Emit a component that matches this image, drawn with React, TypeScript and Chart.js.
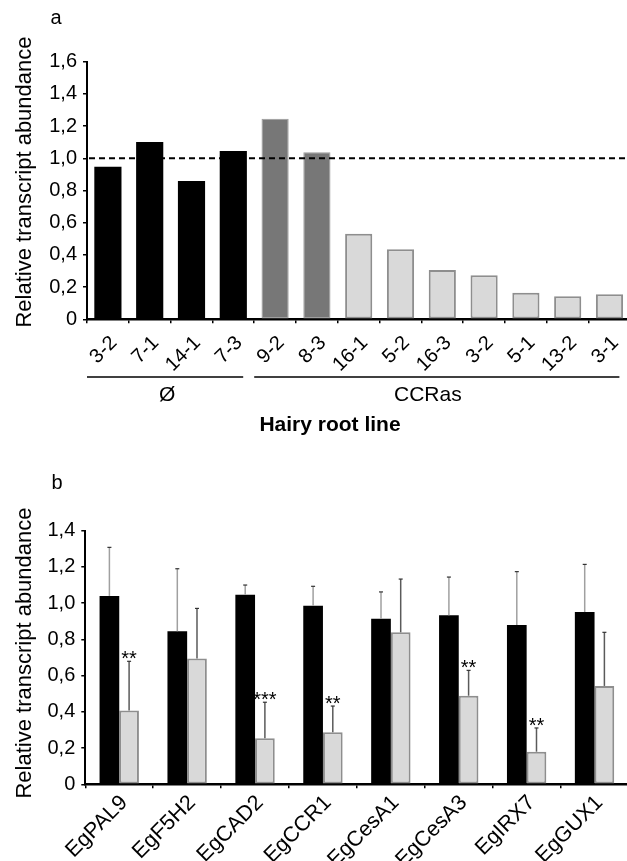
import React, { useEffect, useRef } from 'react';
import { Chart, registerables } from 'chart.js';

Chart.register(...registerables);

// ---------- Panel a data ----------
const linesA = ['3-2', '7-1', '14-1', '7-3', '9-2', '8-3', '16-1', '5-2', '16-3', '3-2', '5-1', '13-2', '3-1'];
const valuesA = [0.948, 1.101, 0.859, 1.045, 1.246, 1.037, 0.532, 0.435, 0.306, 0.273, 0.165, 0.143, 0.155];
const kindA = ['ctrl', 'ctrl', 'ctrl', 'ctrl', 'high', 'high', 'low', 'low', 'low', 'low', 'low', 'low', 'low'];
const groupNamesA = ['Ø', 'CCRas'];
const groupSizesA = [4, 9];
const yTicksA = ['0', '0,2', '0,4', '0,6', '0,8', '1,0', '1,2', '1,4', '1,6'];
const referenceLevelA = 1.0;

// ---------- Panel b data ----------
const genesB = ['EgPAL9', 'EgF5H2', 'EgCAD2', 'EgCCR1', 'EgCesA1', 'EgCesA3', 'EgIRX7', 'EgGUX1'];
const controlB = [1.04, 0.845, 1.047, 0.986, 0.914, 0.933, 0.879, 0.951];
const controlErrB = [0.268, 0.345, 0.053, 0.107, 0.148, 0.211, 0.295, 0.263];
const ccrB = [0.408, 0.695, 0.254, 0.287, 0.839, 0.489, 0.18, 0.543];
const ccrErrB = [0.271, 0.276, 0.199, 0.145, 0.294, 0.14, 0.131, 0.296];
const sigB = ['**', '', '***', '**', '', '**', '**', ''];
const yTicksB = ['0', '0,2', '0,4', '0,6', '0,8', '1,0', '1,2', '1,4'];

const FONT = '"Liberation Sans", Arial, Helvetica, sans-serif';
const f = (size: number, bold = false) => `${bold ? 'bold ' : ''}${size}px ${FONT}`;

const W = 640;
const HA = 440;
const HB = 421;

const fillFor = (k: string) => (k === 'ctrl' ? '#000000' : k === 'high' ? '#777777' : '#d9d9d9');
const borderFor = (k: string) => (k === 'ctrl' ? '#000000' : k === 'high' ? '#9a9a9a' : '#8e8e8e');
const borderWFor = (k: string) => (k === 'ctrl' ? 0 : k === 'high' ? 1 : 2);

function drawYTitle(ctx: CanvasRenderingContext2D, x: number, y: number, text: string) {
  ctx.save();
  ctx.translate(x, y);
  ctx.rotate(-Math.PI / 2);
  ctx.font = f(22);
  ctx.fillStyle = '#000';
  ctx.textAlign = 'center';
  ctx.textBaseline = 'middle';
  ctx.fillText(text, 0, 0);
  ctx.restore();
}

function drawLetter(ctx: CanvasRenderingContext2D, x: number, y: number, text: string) {
  ctx.save();
  ctx.font = f(20);
  ctx.fillStyle = '#000';
  ctx.textAlign = 'center';
  ctx.textBaseline = 'middle';
  ctx.fillText(text, x, y);
  ctx.restore();
}

const annotA = {
  id: 'annotA',
  afterDatasetsDraw(chart: any) {
    const { ctx, chartArea, scales } = chart;
    const y = scales.y.getPixelForValue(referenceLevelA);
    ctx.save();
    ctx.strokeStyle = '#000';
    ctx.lineWidth = 2;
    ctx.setLineDash([6, 4]);
    ctx.beginPath();
    ctx.moveTo(chartArea.left + 2, y);
    ctx.lineTo(chartArea.right, y);
    ctx.stroke();
    ctx.restore();
  },
  afterDraw(chart: any) {
    const { ctx, scales } = chart;
    const xs = scales.x;
    const step = xs.getPixelForValue(1) - xs.getPixelForValue(0);
    const lineY = 377;
    let start = 0;
    ctx.save();
    ctx.strokeStyle = '#000';
    ctx.lineWidth = 1.6;
    ctx.fillStyle = '#000';
    ctx.font = f(21);
    ctx.textAlign = 'center';
    ctx.textBaseline = 'middle';
    groupNamesA.forEach((name, gi) => {
      const end = start + groupSizesA[gi] - 1;
      const x0 = xs.getPixelForValue(start) - step / 2;
      const x1 = Math.min(xs.getPixelForValue(end) + step / 2 - 11, 621);
      ctx.beginPath();
      ctx.moveTo(x0, lineY);
      ctx.lineTo(x1, lineY);
      ctx.stroke();
      const cx = gi === 0 ? (x0 + x1) / 2 + 2 : (x0 + x1) / 2 - 9;
      ctx.fillText(name, cx, 395);
      start = end + 1;
    });
    ctx.font = f(21, true);
    ctx.fillText('Hairy root line', 330, 425);
    ctx.restore();
    drawYTitle(ctx, 25, 182, 'Relative transcript abundance');
    drawLetter(ctx, 56, 18, 'a');
  },
};

const annotB = {
  id: 'annotB',
  afterDatasetsDraw(chart: any) {
    const { ctx, scales } = chart;
    const ys = scales.y;
    const sets = [
      { vals: controlB, errs: controlErrB, line: '#a0a0a0' },
      { vals: ccrB, errs: ccrErrB, line: '#5a5a5a' },
    ];
    sets.forEach((s, di) => {
      const meta = chart.getDatasetMeta(di);
      meta.data.forEach((el: any, i: number) => {
        const x = el.x;
        const yTop = ys.getPixelForValue(s.vals[i] + s.errs[i]);
        ctx.save();
        ctx.strokeStyle = s.line;
        ctx.lineWidth = 1.5;
        ctx.beginPath();
        ctx.moveTo(x, el.y);
        ctx.lineTo(x, yTop);
        ctx.stroke();
        ctx.strokeStyle = '#333';
        ctx.lineWidth = 1.2;
        ctx.beginPath();
        ctx.moveTo(x - 2, yTop);
        ctx.lineTo(x + 2, yTop);
        ctx.stroke();
        ctx.restore();
        if (di === 1 && sigB[i]) {
          ctx.save();
          ctx.font = f(20);
          ctx.fillStyle = '#000';
          ctx.textAlign = 'center';
          ctx.textBaseline = 'alphabetic';
          ctx.fillText(sigB[i], x, yTop + 4);
          ctx.restore();
        }
      });
    });
  },
  afterDraw(chart: any) {
    const { ctx } = chart;
    drawYTitle(ctx, 25, 653 - 440, 'Relative transcript abundance');
    drawLetter(ctx, 57, 483 - 440, 'b');
  },
};

function axisCommon(labels: string[], font: number) {
  return {
    ticks: {
      color: '#000',
      font: { family: FONT, size: font },
      padding: 6,
      callback: (_v: any, i: number) => labels[i],
    },
  };
}

export default function App() {
  const refA = useRef<HTMLCanvasElement>(null);
  const refB = useRef<HTMLCanvasElement>(null);

  useEffect(() => {
    const chartA = new Chart(refA.current as HTMLCanvasElement, {
      type: 'bar',
      data: {
        labels: linesA,
        datasets: [
          {
            data: valuesA,
            backgroundColor: kindA.map(fillFor),
            borderColor: kindA.map(borderFor),
            borderWidth: kindA.map(borderWFor),
            borderSkipped: false,
            categoryPercentage: 1,
            barPercentage: 0.65,
          },
        ],
      },
      options: {
        responsive: false,
        animation: false,
        devicePixelRatio: 1,
        layout: { padding: { top: 61.7, right: W - 630.4, bottom: 0, left: 0 } },
        plugins: { legend: { display: false }, tooltip: { enabled: false } },
        scales: {
          x: {
            grid: { display: true, drawOnChartArea: false, offset: true, color: '#000', lineWidth: 1.5, tickLength: 4 },
            border: { display: true, color: '#000', width: 2.5 },
            ticks: { color: '#000', font: { family: FONT, size: 20 }, maxRotation: 45, minRotation: 45, padding: 8, autoSkip: false, labelOffset: 6 },
            afterFit: (s: any) => { s.height = HA - 319.3; },
          },
          y: {
            min: 0,
            max: 1.6,
            grid: { display: true, drawOnChartArea: false, color: '#000', lineWidth: 1.5, tickLength: 4 },
            border: { display: true, color: '#000', width: 2 },
            ...axisCommon(yTicksA, 20),
            afterBuildTicks: (s: any) => { s.ticks = yTicksA.map((_, i) => ({ value: Math.round(i * 2) / 10 })); },
            afterFit: (s: any) => { s.width = 87; },
          },
        },
      },
      plugins: [annotA],
    } as any);

    const chartB = new Chart(refB.current as HTMLCanvasElement, {
      type: 'bar',
      data: {
        labels: genesB,
        datasets: [
          {
            data: controlB,
            backgroundColor: '#000000',
            borderColor: '#000000',
            borderWidth: 0,
            categoryPercentage: 0.58,
            barPercentage: 1,
          },
          {
            data: ccrB,
            backgroundColor: '#d9d9d9',
            borderColor: '#8e8e8e',
            borderWidth: 2,
            borderSkipped: false,
            categoryPercentage: 0.58,
            barPercentage: 1,
          },
        ],
      },
      options: {
        responsive: false,
        animation: false,
        devicePixelRatio: 1,
        layout: { padding: { top: 530.7 - 440, right: W - 628.5, bottom: 0, left: 0 } },
        plugins: { legend: { display: false }, tooltip: { enabled: false } },
        scales: {
          x: {
            grid: { display: true, drawOnChartArea: false, offset: true, color: '#000', lineWidth: 1.5, tickLength: 4 },
            border: { display: true, color: '#000', width: 2.5 },
            ticks: { color: '#000', font: { family: FONT, size: 21.5 }, maxRotation: 45, minRotation: 45, padding: 2, autoSkip: false, labelOffset: 5 },
            afterFit: (s: any) => { s.height = HB - (784.3 - 440); },
          },
          y: {
            min: 0,
            max: 1.4,
            grid: { display: true, drawOnChartArea: false, color: '#000', lineWidth: 1.5, tickLength: 4 },
            border: { display: true, color: '#000', width: 2 },
            ...axisCommon(yTicksB, 20),
            afterBuildTicks: (s: any) => { s.ticks = yTicksB.map((_, i) => ({ value: Math.round(i * 2) / 10 })); },
            afterFit: (s: any) => { s.width = 85.3; },
          },
        },
      },
      plugins: [annotB],
    } as any);

    return () => {
      chartA.destroy();
      chartB.destroy();
    };
  }, []);

  return (
    <div style={{ position: 'absolute', left: 0, top: 0, width: 627, height: 861, overflow: 'hidden', background: '#fff' }}>
      <canvas ref={refA} width={W} height={HA} style={{ position: 'absolute', left: 0, top: 0, width: W, height: HA }} />
      <canvas ref={refB} width={W} height={HB} style={{ position: 'absolute', left: 0, top: 440, width: W, height: HB }} />
    </div>
  );
}
